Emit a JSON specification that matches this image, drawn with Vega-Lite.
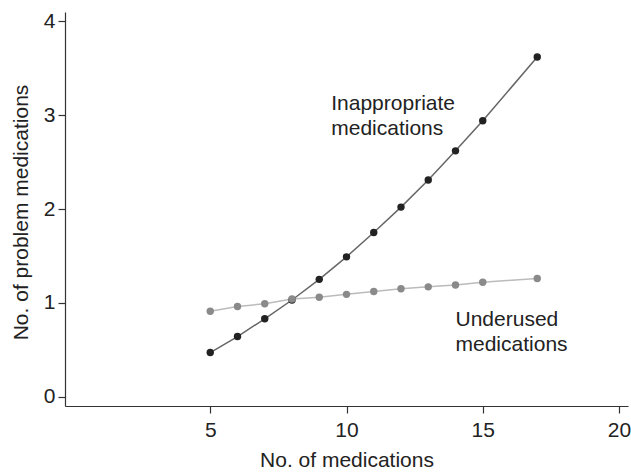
{
  "$schema": "https://vega.github.io/schema/vega-lite/v6.json",
  "width": 563,
  "height": 394,
  "autosize": "none",
  "padding": {"left": 65, "top": 12, "right": 3, "bottom": 66},
  "background": "white",
  "config": {
    "view": {"stroke": null},
    "font": "Liberation Sans",
    "axis": {"grid": false, "domainColor": "#333", "tickColor": "#333", "labelColor": "#222", "titleColor": "#222", "labelFont": "Liberation Sans", "titleFont": "Liberation Sans", "labelFontSize": 21, "titleFontSize": 21, "titleFontWeight": "normal", "domainWidth": 1.2, "tickWidth": 1.2, "tickSize": 7}
  },
  "datasets": {
    "series": [
      {"meds": 5, "value": 0.47, "group": "Inappropriate"},
      {"meds": 6, "value": 0.64, "group": "Inappropriate"},
      {"meds": 7, "value": 0.83, "group": "Inappropriate"},
      {"meds": 8, "value": 1.03, "group": "Inappropriate"},
      {"meds": 9, "value": 1.25, "group": "Inappropriate"},
      {"meds": 10, "value": 1.49, "group": "Inappropriate"},
      {"meds": 11, "value": 1.75, "group": "Inappropriate"},
      {"meds": 12, "value": 2.02, "group": "Inappropriate"},
      {"meds": 13, "value": 2.31, "group": "Inappropriate"},
      {"meds": 14, "value": 2.62, "group": "Inappropriate"},
      {"meds": 15, "value": 2.94, "group": "Inappropriate"},
      {"meds": 17, "value": 3.62, "group": "Inappropriate"},
      {"meds": 5, "value": 0.91, "group": "Underused"},
      {"meds": 6, "value": 0.96, "group": "Underused"},
      {"meds": 7, "value": 0.99, "group": "Underused"},
      {"meds": 8, "value": 1.04, "group": "Underused"},
      {"meds": 9, "value": 1.06, "group": "Underused"},
      {"meds": 10, "value": 1.09, "group": "Underused"},
      {"meds": 11, "value": 1.12, "group": "Underused"},
      {"meds": 12, "value": 1.15, "group": "Underused"},
      {"meds": 13, "value": 1.17, "group": "Underused"},
      {"meds": 14, "value": 1.19, "group": "Underused"},
      {"meds": 15, "value": 1.22, "group": "Underused"},
      {"meds": 17, "value": 1.26, "group": "Underused"}
    ],
    "labels": [
      {"meds": 9.44, "value": 3.055, "text": "Inappropriate\nmedications"},
      {"meds": 14.0, "value": 0.756, "text": "Underused\nmedications"}
    ]
  },
  "layer": [
    {
      "data": {"name": "series"},
      "mark": {"type": "line", "strokeWidth": 1.5},
      "encoding": {
        "x": {"field": "meds", "type": "quantitative", "scale": {"domain": [-0.33, 20.33], "nice": false, "zero": false}, "axis": {"values": [5, 10, 15, 20], "format": "d", "title": "No. of medications", "labelPadding": 6, "titlePadding": 9}},
        "y": {"field": "value", "type": "quantitative", "scale": {"domain": [-0.1, 4.1], "nice": false, "zero": false}, "axis": {"values": [0, 1, 2, 3, 4], "format": "d", "title": "No. of problem medications", "labelPadding": 3, "titleX": -44, "titleY": 200, "titleAlign": "center", "titleBaseline": "middle", "titleAngle": 270}},
        "color": {"field": "group", "type": "nominal", "scale": {"domain": ["Inappropriate", "Underused"], "range": ["#666666", "#bbbbbb"]}, "legend": null}
      }
    },
    {
      "data": {"name": "series"},
      "mark": {"type": "point", "filled": true, "size": 55, "opacity": 1},
      "encoding": {
        "x": {"field": "meds", "type": "quantitative"},
        "y": {"field": "value", "type": "quantitative"},
        "fill": {"field": "group", "type": "nominal", "scale": {"domain": ["Inappropriate", "Underused"], "range": ["#222222", "#8a8a8a"]}, "legend": null}
      }
    },
    {
      "data": {"name": "labels"},
      "mark": {"type": "text", "align": "left", "baseline": "alphabetic", "fontSize": 21, "lineHeight": 25, "lineBreak": "\n", "color": "#222", "font": "Liberation Sans"},
      "encoding": {
        "x": {"field": "meds", "type": "quantitative"},
        "y": {"field": "value", "type": "quantitative"},
        "text": {"field": "text", "type": "nominal"}
      }
    }
  ]
}
